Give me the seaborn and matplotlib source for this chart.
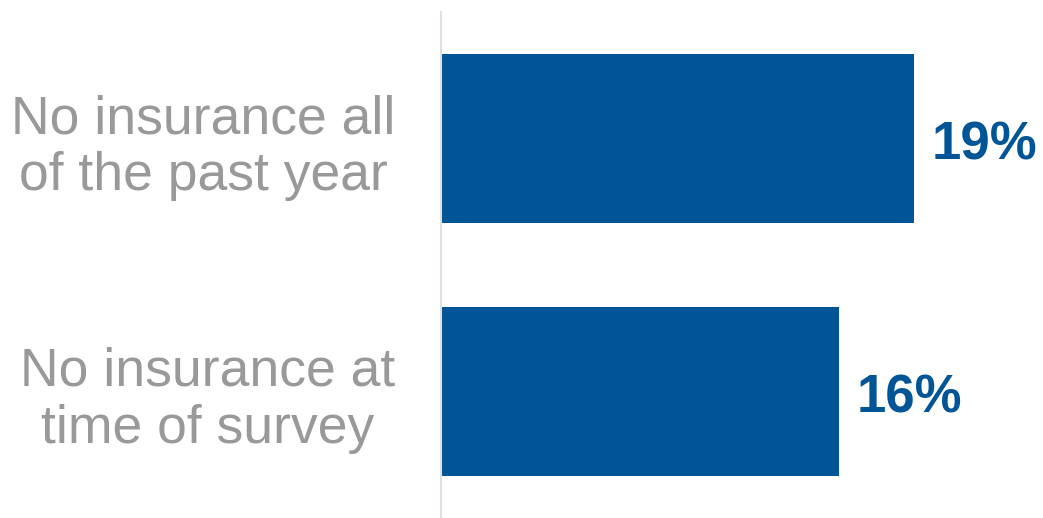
import matplotlib
matplotlib.use("Agg")
import matplotlib.pyplot as plt
import seaborn as sns
import pandas as pd

categories = ["No insurance all\nof the past year", "No insurance at\ntime of survey"]
values = [19, 16]
value_labels = ["19%", "16%"]

df = pd.DataFrame({"category": categories, "value": values})

sns.set_theme(style="white")
plt.rcParams['font.family'] = ['Liberation Sans', 'DejaVu Sans']

fig = plt.figure(figsize=(10.43, 5.18), dpi=100)
ax = fig.add_axes([441/1043, 0, 1 - 441/1043, 1 - 12/518])

bar_color = "#005596"
sns.barplot(data=df, x="value", y="category", orient="h", color=bar_color,
            width=0.665, saturation=1, ax=ax, edgecolor="none")

ax.set_xlim(0, 24.2)
ax.set_ylim(1.5, -0.5)
ax.set_xlabel("")
ax.set_ylabel("")
ax.set_xticks([])
for s in ["top", "right", "bottom"]:
    ax.spines[s].set_visible(False)
ax.spines["left"].set_color("#e0e0e0")
ax.spines["left"].set_linewidth(1.5)

ax.tick_params(axis="y", length=0, pad=33)
for lab in ax.get_yticklabels():
    lab.set_fontsize(38.5)
    lab.set_color("#999999")
    lab.set_linespacing(1.18)
    lab.set_horizontalalignment("right")
    lab.set_multialignment("center")

for p, txt in zip(ax.patches, value_labels):
    ax.annotate(txt, (p.get_width(), p.get_y() + p.get_height() / 2),
                xytext=(13, -5), textcoords="offset points",
                ha="left", va="center", fontsize=38, fontweight="bold",
                color=bar_color)

fig.savefig("out.png", dpi=100)
